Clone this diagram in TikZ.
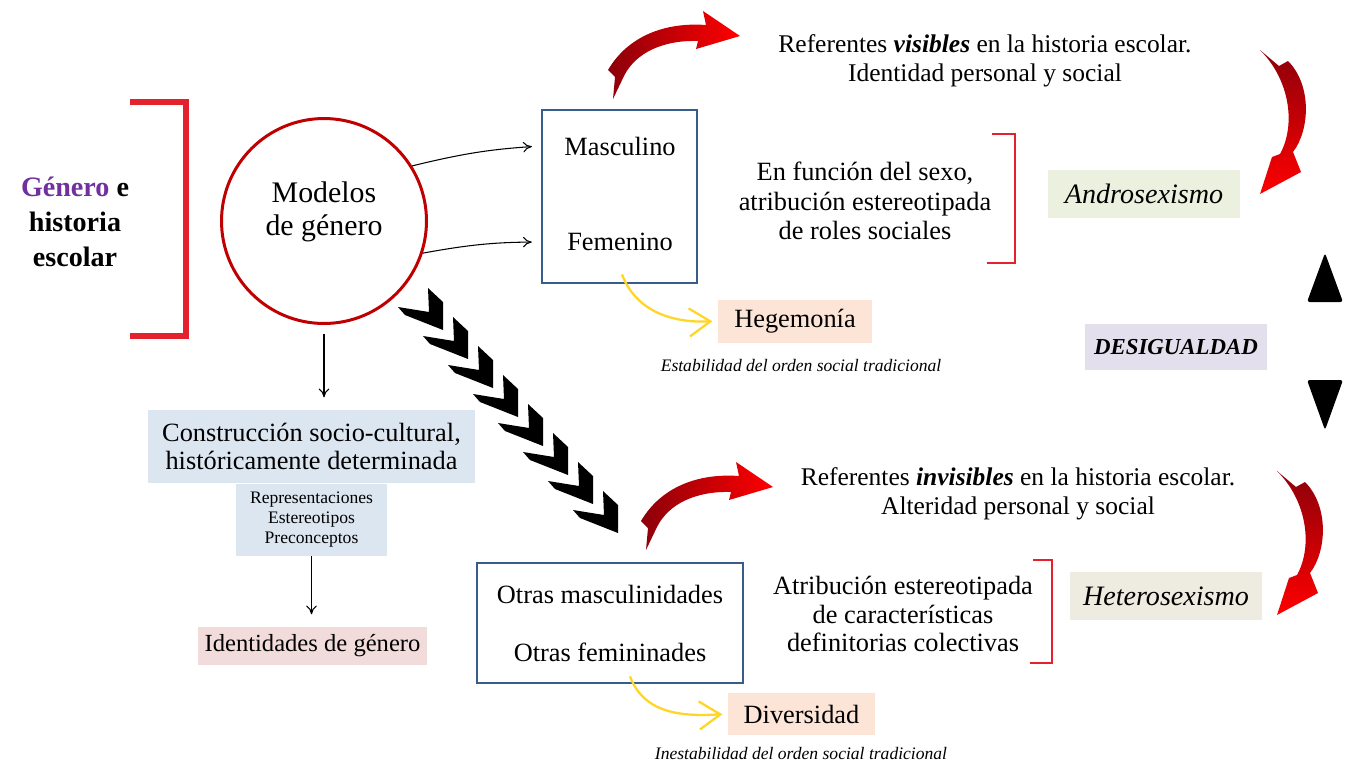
\documentclass[tikz,border=0pt]{standalone}
\usepackage{fontspec}
\setmainfont{Liberation Serif}
\usetikzlibrary{arrows.meta,positioning}
\definecolor{bracketred}{RGB}{228,34,45}
\definecolor{circred}{RGB}{192,0,0}
\definecolor{boxblue}{RGB}{56,93,138}
\definecolor{generopurple}{RGB}{112,48,160}
\definecolor{constblue}{RGB}{220,230,241}
\definecolor{identpink}{RGB}{242,220,219}
\definecolor{hegpeach}{RGB}{252,228,214}
\definecolor{androgreen}{RGB}{235,241,222}
\definecolor{desiglav}{RGB}{228,223,236}
\definecolor{heterogray}{RGB}{238,236,225}
\definecolor{arrowyellow}{RGB}{255,214,40}
\definecolor{arrdark}{RGB}{140,0,10}
\definecolor{arrred}{RGB}{255,0,0}
\begin{document}
\begin{tikzpicture}[x=0.02cm,y=-0.02cm,
  txt/.style={align=center,inner sep=0pt,font=\fontsize{15}{16.8}\selectfont},
  fillbox/.style={inner sep=0pt,font=\fontsize{15}{17}\selectfont},
  bluebox/.style={draw=boxblue,line width=1.6pt,inner sep=0pt},
  redbracket/.style={draw=bracketred,line width=3pt},
  thinarrow/.style={-{To[length=5pt,width=6pt]},line width=0.6pt},
  yellowarrow/.style={draw=arrowyellow,line width=1.3pt,-{Straight Barb[length=12pt,width=16pt,line width=1.3pt]}},
  chevron/.style={fill=black},
  redcurl/.style={left color=arrdark,right color=arrred},
  reddrop/.style={top color=arrdark,bottom color=arrred}]
\useasboundingbox (0,0) rectangle (1352,765);
% left part
\node[txt,font=\bfseries\fontsize{16}{19.8}\selectfont] (genero) at (75,222) {\textcolor{generopurple}{Género} e\\historia\\escolar};
\draw[redbracket] (130,102) -| (186,336) -- (130,336);
\node[circle,draw=circred,line width=1.7pt,minimum size=4.1cm] (modelos) at (324,221) {};
\node[txt,font=\fontsize{17}{18.7}\selectfont] (modelostxt) at (324,212) {Modelos\\de género};
\node[fillbox,fill=constblue,minimum width=6.54cm,minimum height=1.46cm,align=center,font=\fontsize{15}{15.5}\selectfont] (constr) at (311.5,446.5) {Construcción socio-cultural,\\históricamente determinada};
\node[fillbox,fill=constblue,minimum width=3.02cm,minimum height=1.44cm,align=center,font=\fontsize{10}{11.3}\selectfont,below=0pt of constr] (repr) {Representaciones\\Estereotipos\\Preconceptos};
\node[fillbox,fill=identpink,minimum width=4.58cm,minimum height=0.76cm,font=\fontsize{14}{16}\selectfont] (ident) at (312.5,646) {Identidades de género};
\draw[thinarrow,shorten <=5pt,shorten >=7pt] (modelos.south) -- (modelos.south |- constr.north);
\draw[thinarrow,shorten >=7pt] (repr.south) -- (repr.south |- ident.north);
% upper models
\node[bluebox,minimum width=3.1cm,minimum height=3.46cm] (mfbox) at (619.5,196.5) {};
\node[txt] (masc) at (620,146) {Masculino};
\node[txt] (fem) at (620,242) {Femenino};
\draw[thinarrow,shorten >=5pt] (modelos.32) to[bend left=5] (mfbox.west |- masc.center);
\draw[thinarrow,shorten >=5pt] (modelos.-18) to[bend left=5] (mfbox.west |- fem.center);
\shade[redcurl] (608,70) .. controls (628,36) and (665,22) .. (706,25) -- (703,11) -- (740,36) -- (696,49) -- (698,41) .. controls (664,40) and (636,52) .. (624,76) -- (613,99) -- (615,77) -- cycle;
\node[txt,font=\fontsize{14.5}{16.5}\selectfont] (refvis) at (985,61) {Referentes \textbf{\textit{visibles}} en la historia escolar.\\Identidad personal y social};
\node[txt] (funcion) at (865,201) {En función del sexo,\\atribución estereotipada\\de roles sociales};
\draw[redbracket,line width=1.5pt] (992,134) -| (1015,263) -- (987,263);
\node[fillbox,fill=androgreen,minimum width=3.84cm,minimum height=0.96cm,font=\itshape\fontsize{16}{18}\selectfont] (andro) at (1144,194) {Androsexismo};
\shade[reddrop] (1260,50) -- (1279,66) -- (1288,61) .. controls (1312,85) and (1310,130) .. (1293,152) -- (1301,172) -- (1260,194) -- (1272,157) -- (1280,154) .. controls (1296,125) and (1290,80) .. cycle;
\node[fillbox,fill=hegpeach,minimum width=3.08cm,minimum height=0.86cm] (hegem) at (795,321) {Hegemonía};
\node[txt,font=\itshape\fontsize{10}{12}\selectfont] (estab) at (801,365) {Estabilidad del orden social tradicional};
\draw[yellowarrow,shorten >=3pt] ([xshift=0.05cm,yshift=0.2cm]mfbox.south) .. controls +(15,40) and +(-40,2) .. (hegem.west);
% middle right
\node[fillbox,fill=desiglav,minimum width=3.64cm,minimum height=0.92cm,font=\bfseries\itshape\fontsize{13}{15}\selectfont] (desig) at (1176,347) {DESIGUALDAD};
\fill[rounded corners=1.5pt] (1325,253) -- (1343,302) -- (1307,302) -- cycle;
\fill[rounded corners=1.5pt] (1307,380) -- (1343,380) -- (1325,430) -- cycle;
\foreach \k in {0,...,7}
    \fill[chevron] ({443+25*\k},{330+29*\k}) -- ++(-38,-15) -- ++(-7,-8) -- ++(31,5) -- ++(-1,-24) -- ++(15,14) -- cycle;
% lower models
\node[bluebox,minimum width=5.32cm,minimum height=2.4cm] (otras) at (610,623) {};
\node[txt] (otrmasc) at (610,594) {Otras masculinidades};
\node[txt] (otrfem) at (610,652) {Otras femininades};
\begin{scope}[shift={(33,451)}]
\shade[redcurl] (608,70) .. controls (628,36) and (665,22) .. (706,25) -- (703,11) -- (740,36) -- (696,49) -- (698,41) .. controls (664,40) and (636,52) .. (624,76) -- (613,99) -- (615,77) -- cycle;
\end{scope}
\node[txt,font=\fontsize{14.5}{16.5}\selectfont] (refinv) at (1018,494) {Referentes \textbf{\textit{invisibles}} en la historia escolar.\\Alteridad personal y social};
\node[txt,font=\fontsize{15}{16.4}\selectfont] (atrib) at (903,614) {Atribución estereotipada\\de características\\definitorias colectivas};
\draw[redbracket,line width=1.5pt] (1033,560) -| (1052,663) -- (1030,663);
\node[fillbox,fill=heterogray,minimum width=3.84cm,minimum height=0.96cm,font=\itshape\fontsize{16}{18}\selectfont] (hetero) at (1166,596) {Heterosexismo};
\begin{scope}[shift={(17,421)}]
\shade[reddrop] (1260,50) -- (1279,66) -- (1288,61) .. controls (1312,85) and (1310,130) .. (1293,152) -- (1301,172) -- (1260,194) -- (1272,157) -- (1280,154) .. controls (1296,125) and (1290,80) .. cycle;
\end{scope}
\node[fillbox,fill=hegpeach,minimum width=2.94cm,minimum height=0.84cm] (divers) at (801.5,714) {Diversidad};
\node[txt,font=\itshape\fontsize{10}{12}\selectfont] (inest) at (801,753) {Inestabilidad del orden social tradicional};
\draw[yellowarrow,shorten >=3pt] ([xshift=0.4cm,yshift=0.16cm]otras.south) .. controls +(15,40) and +(-40,2) .. (divers.west);
\end{tikzpicture}
\end{document}
